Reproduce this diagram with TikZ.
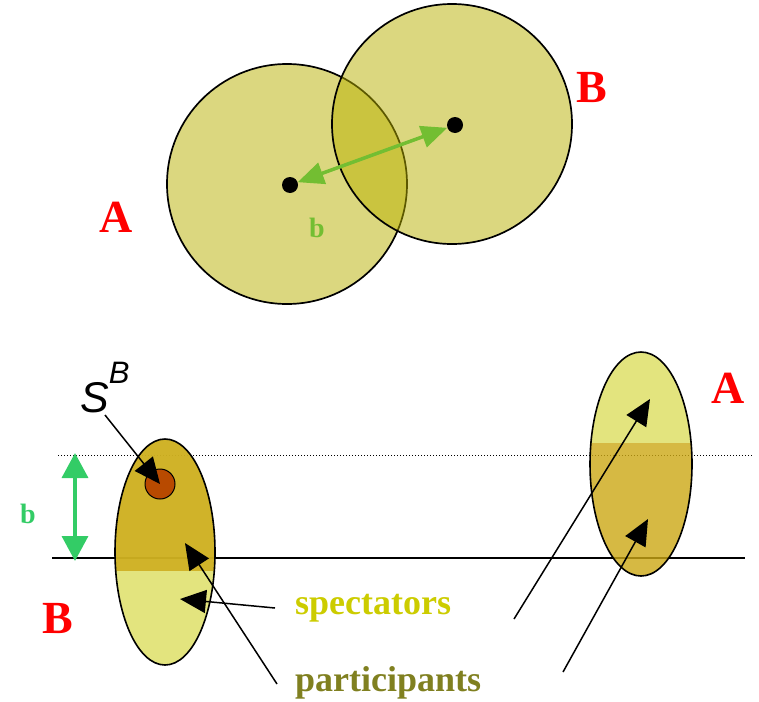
\documentclass[tikz,border=0pt]{standalone}
\usepackage{fontspec}
\setmainfont{Liberation Serif}
\setsansfont{Liberation Sans}
\usetikzlibrary{arrows.meta,positioning}
\definecolor{diskfill}{RGB}{184,176,0}
\definecolor{lightpart}{RGB}{220,221,94}
\definecolor{darkpart}{RGB}{204,168,20}
\definecolor{particle}{RGB}{184,74,0}
\definecolor{arrgreen}{RGB}{115,190,50}
\definecolor{bgreen}{RGB}{51,204,102}
\definecolor{spectxt}{RGB}{204,204,0}
\definecolor{parttxt}{RGB}{128,128,32}

\begin{document}
\begin{tikzpicture}[x=1pt,y=-1pt,
   disk/.style={draw,line width=1.7pt,fill=diskfill,fill opacity=0.5},
   dot/.style={circle,fill=black,inner sep=0pt,minimum size=16pt},
   nucl/.style={text=red,font=\fontsize{46}{46}\selectfont\bfseries,inner sep=0pt},
   blab/.style={font=\fontsize{28}{28}\selectfont\bfseries,inner sep=0pt},
   blk/.style={-{Triangle[length=26pt,width=23pt]},line width=1.5pt},
   gdim/.style={{Triangle[length=25pt,width=26pt]}-{Triangle[length=25pt,width=26pt]},line width=3.5pt,draw=bgreen}]
  \useasboundingbox (0,0) rectangle (759,701);
  % head-on view
  \draw[disk] (287,184) circle [radius=120];
  \draw[disk] (452,124) circle [radius=120];
  \node[dot] (ca) at (290,185) {};
  \node[dot] (cb) at (455,125) {};
  \draw[{Triangle[length=26pt,width=22pt]}-{Triangle[length=26pt,width=22pt]},line width=3.5pt,draw=arrgreen] (ca) -- (cb);
  \node[blab,text=arrgreen,anchor=base west] (bt) at (309,237) {b};
  \node[nucl,anchor=base west] (lA) at (99,232) {A};
  \node[nucl,anchor=base west] (lB) at (576,102) {B};
  % side view
  \draw[dash pattern=on 1.2pt off 1.8pt,line width=1pt] (58,455) -- (752,455);
  \draw[line width=1.5pt] (52,558) -- (745,558);
  \begin{scope}
    \clip (165,552) ellipse [x radius=50,y radius=113];
    \fill[lightpart,fill opacity=0.8] (100,430) rectangle (230,680);
    \fill[darkpart,fill opacity=0.8] (100,430) rectangle (230,571);
  \end{scope}
  \draw[line width=1.6pt] (165,552) ellipse [x radius=50,y radius=113];
  \begin{scope}
    \clip (641,464) ellipse [x radius=51,y radius=112];
    \fill[lightpart,fill opacity=0.8] (580,340) rectangle (700,443);
    \fill[darkpart,fill opacity=0.8] (580,443) rectangle (700,590);
  \end{scope}
  \draw[line width=1.6pt] (641,464) ellipse [x radius=51,y radius=112];
  \node[circle,draw,line width=1pt,fill=particle,inner sep=0pt,minimum size=30pt] (sp) at (160,484) {};
  \node[anchor=base west,inner sep=0pt,font=\sffamily\itshape] (sB) at (80,412)
    {\fontsize{43}{43}\selectfont S\raisebox{29pt}{\fontsize{31}{31}\selectfont B}};
  \node[nucl,anchor=base west] (lB2) at (42,633) {B};
  \node[nucl,anchor=base west] (lA2) at (711,403) {A};
  \coordinate (gtop) at (75,453);
  \coordinate (gbot) at (75,561);
  \draw[gdim] (gtop) -- (gbot);
  \node[blab,text=bgreen,anchor=base west] (bs) at (20,523) {b};
  \node[anchor=base west,inner sep=0pt,text=spectxt,font=\fontsize{36}{36}\selectfont\bfseries] (spec) at (295,614) {spectators};
  \node[anchor=base west,inner sep=0pt,text=parttxt,font=\fontsize{36}{36}\selectfont\bfseries] (part) at (295,691) {participants};
  \coordinate (tS) at (105,415);
  \coordinate (tSp) at (275,608);  \coordinate (hSp) at (180,599);
  \coordinate (tPl) at (277,684);  \coordinate (hPl) at (185,543);
  \coordinate (tA1) at (514,619);  \coordinate (hA1) at (650,399);
  \coordinate (tA2) at (563,672);  \coordinate (hA2) at (648,519);
  \draw[blk] (tS) -- (sp.center);
  \foreach \a/\b in {tSp/hSp,tPl/hPl,tA1/hA1,tA2/hA2}{\draw[blk] (\a) -- (\b);}
\end{tikzpicture}
\end{document}
